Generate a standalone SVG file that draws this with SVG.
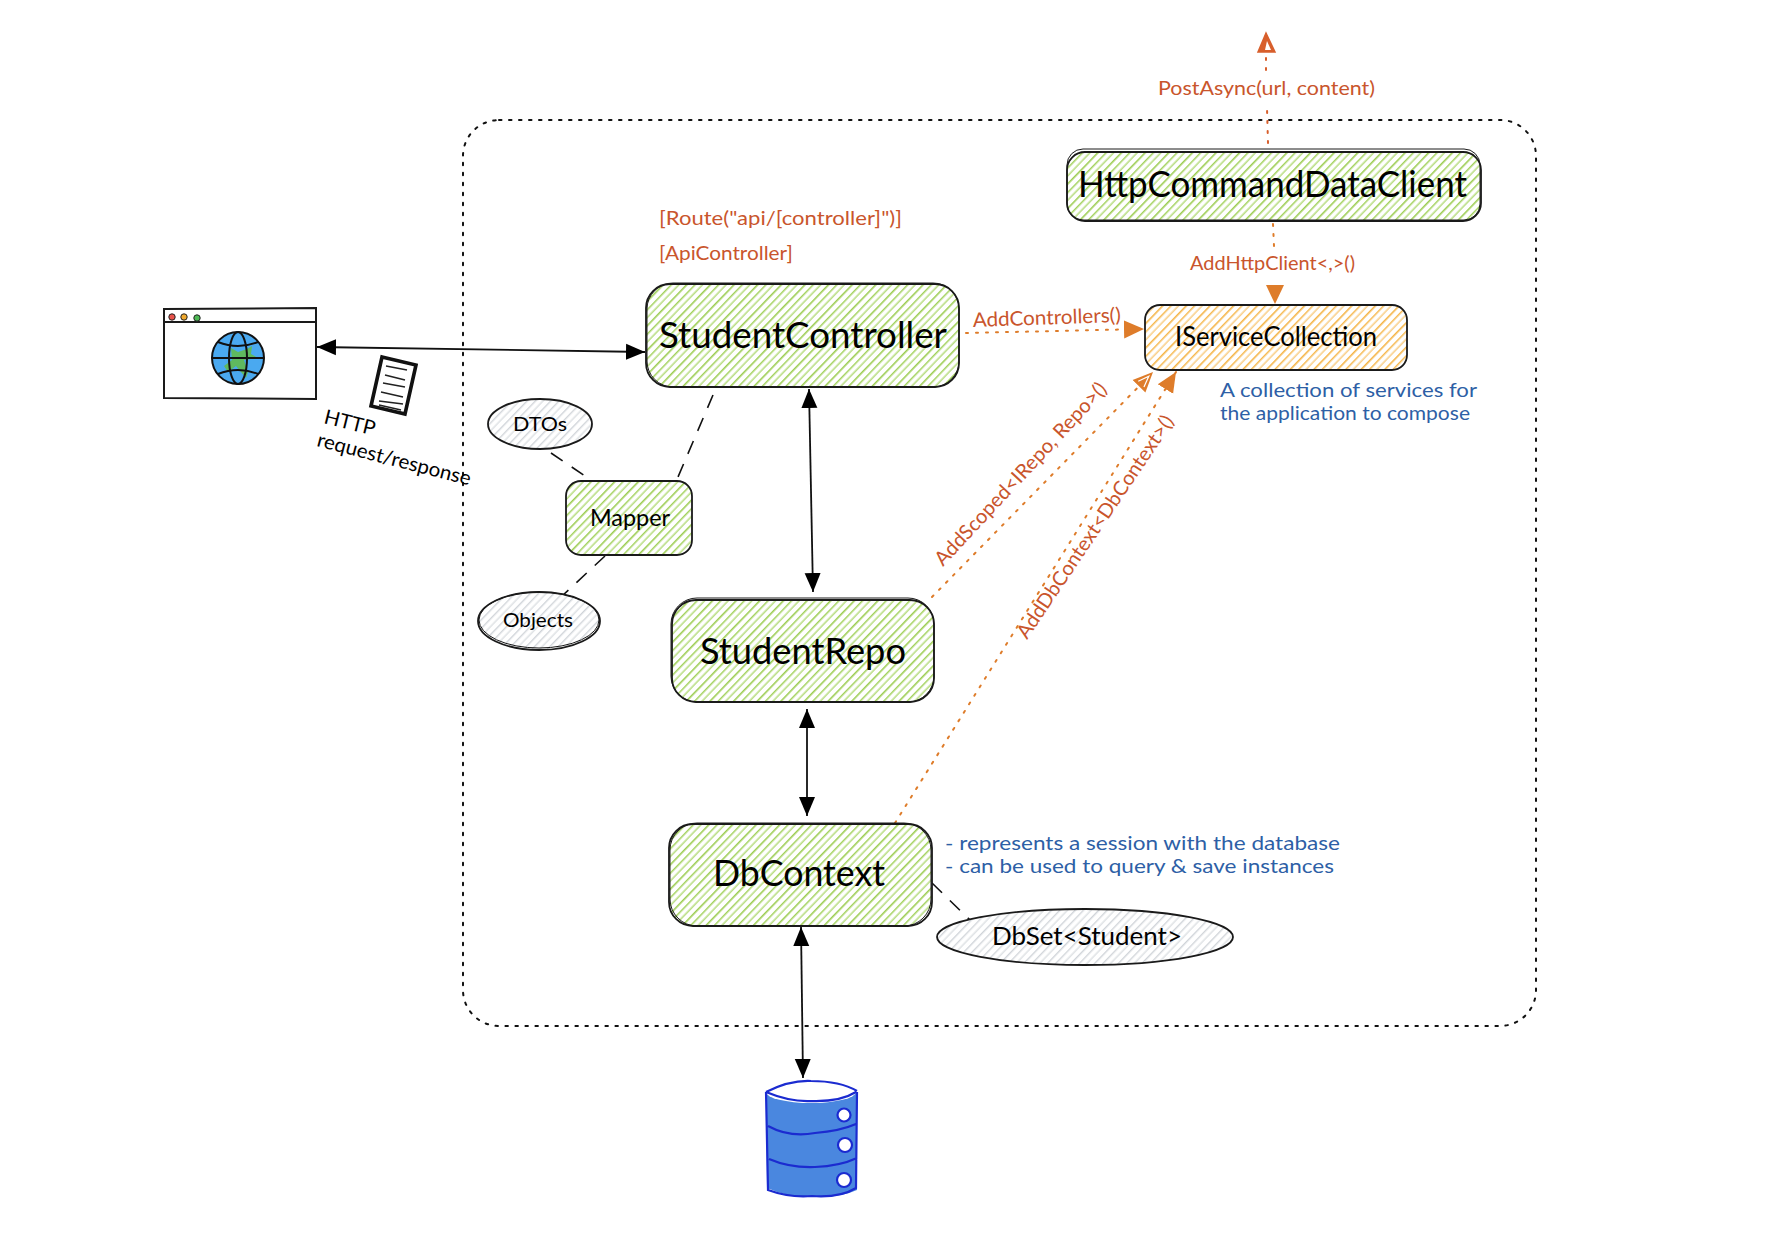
<svg xmlns="http://www.w3.org/2000/svg" width="1775" height="1249" viewBox="0 0 1775 1249">
<style>
text{font-family:"Lato","Noto Sans","Liberation Sans",sans-serif;fill:#000}
.red{fill:#c9552c;font-size:20px}
.blue{fill:#2e5fa6;font-size:20px}
.big{font-size:37px}
.box{stroke:#1a1a1a;stroke-width:1.8}
.sk{fill:none;stroke:#1a1a1a;stroke-width:1}
.green{fill:url(#hg)}
.orange{fill:url(#ho)}
.grey{fill:url(#hk)}
.arrow{stroke:#111;stroke-width:1.8;fill:none;marker-start:url(#ab);marker-end:url(#ab)}
.dash{stroke:#111;stroke-width:1.6;fill:none;stroke-dasharray:14 11}
.dot{stroke:#de7c2a;stroke-width:2;fill:none;stroke-dasharray:2 8;stroke-linecap:round}
.dotend{marker-end:url(#ao)}
.red-dot{stroke:#d85f2c}
.db{stroke:#1b2bd0;stroke-width:2.2;fill:none}
</style>
<defs>
<pattern id="hg" width="17" height="17" patternUnits="userSpaceOnUse" patternTransform="rotate(-46)"><rect width="17" height="17" fill="#fff"/><rect y="0" width="17" height="1.5" fill="#a2d15c"/><rect y="5.5" width="17" height="1.3" fill="#aad668"/><rect y="11" width="17" height="1.6" fill="#9ccd52"/></pattern>
<pattern id="ho" width="17" height="17" patternUnits="userSpaceOnUse" patternTransform="rotate(-46)"><rect width="17" height="17" fill="#fff"/><rect y="0" width="17" height="1.5" fill="#f6b84e"/><rect y="5.5" width="17" height="1.3" fill="#f8c570"/><rect y="11" width="17" height="1.6" fill="#f5b445"/></pattern>
<pattern id="hk" width="17" height="17" patternUnits="userSpaceOnUse" patternTransform="rotate(-46)"><rect width="17" height="17" fill="#fff"/><rect y="0" width="17" height="1.4" fill="#d2d6da"/><rect y="5.5" width="17" height="1.3" fill="#d9dde0"/><rect y="11" width="17" height="1.4" fill="#cfd3d8"/></pattern>
<marker id="ab" markerUnits="userSpaceOnUse" markerWidth="22" markerHeight="20" refX="19" refY="9" orient="auto-start-reverse"><path d="M0 1 L19 9 L0 17 Z" fill="#000"/></marker>
<marker id="ao" markerUnits="userSpaceOnUse" markerWidth="24" markerHeight="22" refX="20" refY="10" orient="auto"><path d="M0 1 L20 10 L0 19 Z" fill="#de7c2a"/></marker>
<marker id="ah" markerUnits="userSpaceOnUse" markerWidth="24" markerHeight="22" refX="20" refY="10" orient="auto"><path d="M0 1 L20 10 L0 19 Z" fill="#de7c2a"/><path d="M3 6 L14 10 L3 14" fill="none" stroke="#fff" stroke-width="1.2"/></marker>
</defs>
<rect width="1775" height="1249" fill="#fff"/>

<g id="boundary"><rect x="463" y="120" width="1073" height="906" rx="36" fill="none" stroke="#111" stroke-width="2" stroke-dasharray="2.5 7.5" stroke-linecap="round"/></g>

<g id="connectors">
<path class="arrow" d="M317 347 L645 352"/>
<path class="arrow" d="M809 389 L813 592"/>
<path class="arrow" d="M807 709 L807 816"/>
<path class="arrow" d="M801 927 L803 1078"/>
<path class="dash" d="M713 395 L675 484"/>
<path class="dash" d="M551 453 L597 484"/>
<path class="dash" d="M605 556 L562 596"/>
<path class="dash" d="M932 883 L975 925"/>
<path class="dot dotend" d="M966 333 L1144 329"/>
<path class="dot" d="M932 597 L1153 372" marker-end="url(#ah)"/>
<path class="dot dotend" d="M895 823 L1176 372"/>
<path class="dot" d="M1273 224 L1274 246"/>
<path d="M1275 304 L1266 285 L1284 285 Z" fill="#de7c2a"/>
<path class="dot red-dot" d="M1268 143 L1267 108"/>
<path class="dot red-dot" d="M1266 70 L1266 58"/>
<path d="M1266 33 L1275 52 L1258 52 Z" fill="#d85f2c" stroke="#d85f2c" stroke-width="1.5"/>
<path d="M1267 41 L1271 50 L1265 50 Z" fill="#fff"/>
</g>

<g id="browser">
<path d="M164 309 L316 308 L316 399 L164 398 Z" fill="#fff" stroke="#1a1a1a" stroke-width="2"/>
<path d="M163 322 L317 322" stroke="#1a1a1a" stroke-width="2.2"/>
<circle cx="172" cy="317" r="3.2" fill="#e8524a" stroke="#222"/>
<circle cx="184" cy="317" r="3.2" fill="#f0a92e" stroke="#222"/>
<circle cx="197" cy="318" r="3.2" fill="#4dba54" stroke="#222"/>
<circle cx="238" cy="358" r="26" fill="#4aa9f0"/>
<path d="M231 348 L238 352 L247 349 L252 346 L251 354 L258 358 L244 360 L248 372 L246 378 L236 366 L228 372 L224 366 L232 360 Z" fill="#5fb95f"/>
<g fill="none" stroke="#111" stroke-width="2"><circle cx="238" cy="358" r="26"/><ellipse cx="238" cy="358" rx="9" ry="26"/><path d="M212 358 L264 358 M218 342 Q238 350 258 342 M218 374 Q238 366 258 374"/></g>
</g>

<g id="document">
<path d="M382 357 L416 365 L405 414 L371 406 Z" fill="#fff" stroke="#111" stroke-width="3.6"/>
<path d="M386 366 L407 370 M385 375 L405 380 M383 383 L405 387 M381 392 L403 397 M379 401 L403 404 M379 405 L401 410" stroke="#222" stroke-width="1.6" fill="none"/>
<text x="323" y="423" font-size="20" textLength="52" lengthAdjust="spacingAndGlyphs" transform="rotate(14 323 423)">HTTP</text>
<text x="316" y="446" font-size="20" textLength="158" lengthAdjust="spacingAndGlyphs" transform="rotate(14.5 316 446)">request/response</text>
</g>

<g id="student-controller">
<rect class="green box" x="646" y="284" width="313" height="103" rx="24"/>
<rect class="sk" x="647" y="283" width="312" height="104" rx="26"/>
<text class="big" x="659" y="348" textLength="288" lengthAdjust="spacingAndGlyphs">StudentController</text>
</g>

<g id="student-repo">
<rect class="green box" x="672" y="600" width="262" height="102" rx="24"/>
<rect class="sk" x="671" y="598" width="263" height="104" rx="26"/>
<text class="big" x="700" y="664" textLength="206" lengthAdjust="spacingAndGlyphs">StudentRepo</text>
</g>

<g id="db-context">
<rect class="green box" x="669" y="824" width="263" height="102" rx="24"/>
<rect class="sk" x="670" y="823" width="261" height="103" rx="27"/>
<text class="big" x="713" y="886" textLength="172" lengthAdjust="spacingAndGlyphs">DbContext</text>
</g>

<g id="http-command-data-client">
<rect class="green box" x="1067" y="152" width="414" height="69" rx="18"/>
<rect class="sk" x="1067" y="149" width="413" height="71" rx="16"/>
<text class="big" x="1078" y="197" textLength="389" lengthAdjust="spacingAndGlyphs">HttpCommandDataClient</text>
</g>

<g id="iservice-collection">
<rect class="orange box" x="1145" y="305" width="262" height="65" rx="15"/>
<text x="1175" y="346" font-size="26" textLength="202" lengthAdjust="spacingAndGlyphs">IServiceCollection</text>
</g>

<g id="mapper">
<rect class="green box" x="566" y="481" width="126" height="74" rx="15"/>
<text x="590" y="526" font-size="24" textLength="80" lengthAdjust="spacingAndGlyphs">Mapper</text>
</g>

<g id="dtos">
<ellipse class="grey box" cx="540" cy="424" rx="52" ry="25"/>
<text x="513" y="431" font-size="20" textLength="54" lengthAdjust="spacingAndGlyphs">DTOs</text>
</g>

<g id="objects">
<ellipse class="grey box" cx="539" cy="621" rx="61" ry="29"/>
<ellipse class="sk" cx="539" cy="620" rx="60" ry="28"/>
<text x="503" y="627" font-size="20" textLength="70" lengthAdjust="spacingAndGlyphs">Objects</text>
</g>

<g id="dbset">
<ellipse class="grey box" cx="1085" cy="937" rx="148" ry="28"/>
<text x="992" y="945" font-size="25" textLength="190" lengthAdjust="spacingAndGlyphs">DbSet&lt;Student&gt;</text>
</g>

<g id="database">
<path d="M766 1092 L767 1188 Q790 1198 812 1197 Q840 1198 857 1190 L857 1092 Z" fill="#4a87df"/>
<ellipse cx="811" cy="1092" rx="45" ry="11" fill="#fff"/>
<path class="db" d="M766 1092 Q790 1080 811 1081 Q840 1081 857 1091 M766 1092 Q790 1102 811 1101 Q840 1102 856 1092 M766 1092 L768 1190 Q790 1198 812 1196 Q840 1198 856 1188 L857 1092 M768 1126 Q790 1138 815 1133 Q840 1131 856 1124 M769 1159 Q790 1168 815 1167 Q840 1166 857 1158"/>
<g fill="#fff" stroke="#1b2bd0" stroke-width="2.2"><circle cx="844" cy="1115" r="6.5"/><circle cx="845" cy="1145" r="7"/><circle cx="844" cy="1180" r="7"/></g>
</g>

<g id="labels">
<text class="red" x="659" y="225" textLength="243" lengthAdjust="spacingAndGlyphs">[Route("api/[controller]")]</text>
<text class="red" x="659" y="260" textLength="134" lengthAdjust="spacingAndGlyphs">[ApiController]</text>
<text class="red" x="1158" y="95" textLength="217" lengthAdjust="spacingAndGlyphs">PostAsync(url, content)</text>
<text class="red" x="1190" y="270" textLength="165" lengthAdjust="spacingAndGlyphs">AddHttpClient&lt;,&gt;()</text>
<text class="red" x="973" y="327" textLength="148" lengthAdjust="spacingAndGlyphs" transform="rotate(-2 973 327)">AddControllers()</text>
<text class="red" x="943" y="567" textLength="242" lengthAdjust="spacingAndGlyphs" transform="rotate(-47 943 567)">AddScoped&lt;IRepo, Repo&gt;()</text>
<text class="red" x="1027" y="640" textLength="264" lengthAdjust="spacingAndGlyphs" transform="rotate(-56 1027 640)">AddDbContext&lt;DbContext&gt;()</text>
<text class="blue" x="1220" y="397" textLength="257" lengthAdjust="spacingAndGlyphs">A collection of services for</text>
<text class="blue" x="1220" y="420" textLength="250" lengthAdjust="spacingAndGlyphs">the application to compose</text>
<text class="blue" x="945" y="850" textLength="395" lengthAdjust="spacingAndGlyphs">- represents a session with the database</text>
<text class="blue" x="945" y="873" textLength="389" lengthAdjust="spacingAndGlyphs">- can be used to query &amp; save instances</text>
</g>
</svg>
